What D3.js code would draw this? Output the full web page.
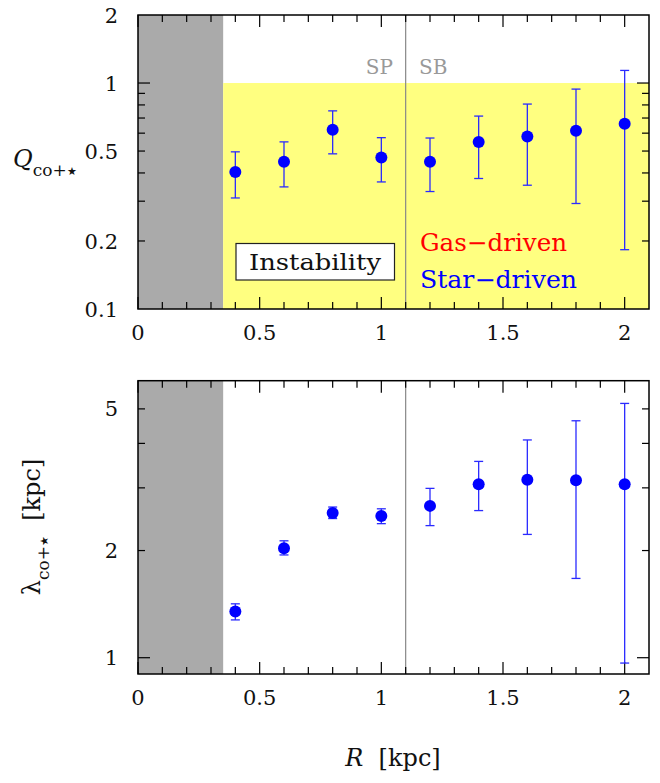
<!DOCTYPE html>
<html>
<head>
<meta charset="utf-8">
<script src="https://cdn.jsdelivr.net/npm/d3@7"></script>
<style>
  body { margin: 0; background: #fff; }
  svg { display: block; }
  text { font-family: 'DejaVu Serif', 'Liberation Serif', serif; }
  .tick-label { font-size: 21px; fill: #111; }
</style>
</head>
<body>
<svg id="chart" width="660" height="783"></svg>
<script>
// radius bins (kpc)
var radius = [0.4, 0.6, 0.8, 1.0, 1.2, 1.4, 1.6, 1.8, 2.0];
// Q_co+* with error range
var qVal = [0.404, 0.448, 0.621, 0.468, 0.448, 0.548, 0.580, 0.615, 0.660];
var qLo  = [0.310, 0.347, 0.486, 0.365, 0.331, 0.378, 0.353, 0.293, 0.183];
var qHi  = [0.496, 0.549, 0.753, 0.573, 0.571, 0.714, 0.807, 0.940, 1.137];
// lambda_co+* [kpc] with error range
var lamVal = [1.348, 2.03, 2.55, 2.50, 2.67, 3.07, 3.16, 3.15, 3.07];
var lamLo  = [1.277, 1.944, 2.46, 2.38, 2.35, 2.59, 2.22, 1.67, 0.966];
var lamHi  = [1.417, 2.13, 2.65, 2.62, 2.99, 3.56, 4.09, 4.63, 5.18];

var xTicks = [0, 0.5, 1, 1.5, 2];
var xMinor = d3.range(0, 2.1, 0.1);
var qTickLabels = [0.1, 0.2, 0.5, 1, 2];
var qMinor = [0.2, 0.3, 0.4, 0.5, 0.6, 0.7, 0.8, 0.9];
var lamTickLabels = [1, 2, 5];
var lamMinor = [2, 3, 4, 5];

var innerEdge = 0.35;   // grey zone
var barEdge = 1.1;      // SP / SB boundary

var svg = d3.select("#chart");
var left = 138, right = 649;

var x = d3.scaleLinear().domain([0, 2.1]).range([left, right]);
var yQ = d3.scaleLog().domain([0.1, 2]).range([309, 15]);
var yL = d3.scaleLog().domain([0.9, 6]).range([674, 380.7]);

function panel(y, vals, lo, hi, major, minor, labels, yellow) {
  var g = svg.append("g");
  var y0 = y.range()[0], y1 = y.range()[1];

  g.append("rect")
    .attr("x", x(0)).attr("y", y1)
    .attr("width", x(innerEdge) - x(0)).attr("height", y0 - y1)
    .attr("fill", "#aaaaaa");

  if (yellow) {
    g.append("rect")
      .attr("x", x(innerEdge)).attr("y", y(1))
      .attr("width", x(2.1) - x(innerEdge)).attr("height", y0 - y(1))
      .attr("fill", "#ffff80");
  }

  g.append("line")
    .attr("x1", x(barEdge)).attr("x2", x(barEdge))
    .attr("y1", y0).attr("y2", y1)
    .attr("stroke", "#888").attr("stroke-width", 1.2);

  // x ticks, bottom and top, inward
  xMinor.forEach(function(t) {
    var isMajor = xTicks.some(function(m) { return Math.abs(m - t) < 1e-6; });
    var len = isMajor ? 12 : 7;
    g.append("line").attr("x1", x(t)).attr("x2", x(t))
      .attr("y1", y0).attr("y2", y0 - len).attr("stroke", "#000").attr("stroke-width", 1.2);
    g.append("line").attr("x1", x(t)).attr("x2", x(t))
      .attr("y1", y1).attr("y2", y1 + len).attr("stroke", "#000").attr("stroke-width", 1.2);
  });
  xTicks.forEach(function(t) {
    g.append("text").attr("class", "tick-label")
      .attr("x", x(t)).attr("y", y0 + 31)
      .attr("text-anchor", "middle")
      .text(String(t));
  });

  // y ticks, left and right
  major.concat(minor).forEach(function(t, i) {
    var len = i < major.length ? 12 : 7;
    g.append("line").attr("x1", left).attr("x2", left + len)
      .attr("y1", y(t)).attr("y2", y(t)).attr("stroke", "#000").attr("stroke-width", 1.2);
    g.append("line").attr("x1", right).attr("x2", right - len)
      .attr("y1", y(t)).attr("y2", y(t)).attr("stroke", "#000").attr("stroke-width", 1.2);
  });
  labels.forEach(function(t) {
    g.append("text").attr("class", "tick-label")
      .attr("x", 118).attr("y", y(t))
      .attr("dy", "0.36em")
      .attr("text-anchor", "end")
      .text(String(t));
  });

  // error bars
  var pts = g.selectAll(".pt").data(radius).enter().append("g");
  pts.append("line")
    .attr("x1", function(d) { return x(d); }).attr("x2", function(d) { return x(d); })
    .attr("y1", function(d, i) { return y(lo[i]); })
    .attr("y2", function(d, i) { return y(hi[i]); })
    .attr("stroke", "#2a2aff").attr("stroke-width", 1.3);
  [lo, hi].forEach(function(arr) {
    pts.append("line")
      .attr("x1", function(d) { return x(d) - 4.5; }).attr("x2", function(d) { return x(d) + 4.5; })
      .attr("y1", function(d, i) { return y(arr[i]); })
      .attr("y2", function(d, i) { return y(arr[i]); })
      .attr("stroke", "#2a2aff").attr("stroke-width", 1.3);
  });
  pts.append("circle")
    .attr("cx", function(d) { return x(d); })
    .attr("cy", function(d, i) { return y(vals[i]); })
    .attr("r", 6)
    .attr("fill", "#0000ff");

  g.append("rect")
    .attr("x", left).attr("y", y1)
    .attr("width", right - left).attr("height", y0 - y1)
    .attr("fill", "none").attr("stroke", "#000").attr("stroke-width", 1.5);
  return g;
}

panel(yQ, qVal, qLo, qHi, [1], qMinor, qTickLabels, true);
panel(yL, lamVal, lamLo, lamHi, [1], lamMinor, lamTickLabels, false);

// SP / SB labels
svg.append("text").attr("x", 393).attr("y", 74)
  .attr("text-anchor", "end")
  .style("font-size", "20px")
  .attr("fill", "#999").text("SP");
svg.append("text").attr("x", 419).attr("y", 74)
  .style("font-size", "20px")
  .attr("fill", "#999").text("SB");

// Instability box
svg.append("rect").attr("x", 236).attr("y", 243.5)
  .attr("width", 158.5).attr("height", 36.5)
  .attr("fill", "#fff").attr("stroke", "#222").attr("stroke-width", 1.2);
svg.append("text").attr("x", 249).attr("y", 270)
  .attr("textLength", 132).attr("lengthAdjust", "spacingAndGlyphs")
  .style("font-size", "23px")
  .attr("fill", "#111").text("Instability");

svg.append("text").attr("x", 420).attr("y", 251)
  .attr("textLength", 147).attr("lengthAdjust", "spacingAndGlyphs")
  .style("font-size", "24px")
  .attr("fill", "#ff0000").text("Gas\u2212driven");
svg.append("text").attr("x", 420).attr("y", 288)
  .attr("textLength", 157).attr("lengthAdjust", "spacingAndGlyphs")
  .style("font-size", "24px")
  .attr("fill", "#0000ff").text("Star\u2212driven");

// axis titles
var qLab = svg.append("text").attr("x", 13).attr("y", 167).attr("fill", "#111");
qLab.append("tspan").style("font-style", "italic").style("font-size", "24px").text("Q");
qLab.append("tspan").attr("dy", 9).style("font-size", "17px").text("co+");
qLab.append("tspan").attr("dy", -1).style("font-size", "11px").text("\u2605");

var lLab = svg.append("text")
  .attr("transform", "translate(40,527) rotate(-90)")
  .attr("text-anchor", "middle")
  .attr("fill", "#111");
lLab.append("tspan").style("font-size", "24px").text("\u03bb");
lLab.append("tspan").attr("dy", 9).style("font-size", "17px").text("co+");
lLab.append("tspan").attr("dy", -1).style("font-size", "11px").text("\u2605");
lLab.append("tspan").attr("dy", -8).style("font-size", "24px").text("\u00a0\u00a0[kpc]");

var rLab = svg.append("text").attr("x", 393).attr("y", 766)
  .attr("text-anchor", "middle")
  .style("font-size", "24px").attr("fill", "#111");
rLab.append("tspan").style("font-style", "italic").text("R");
rLab.append("tspan").text("\u00a0\u00a0[kpc]");
</script>
</body>
</html>
